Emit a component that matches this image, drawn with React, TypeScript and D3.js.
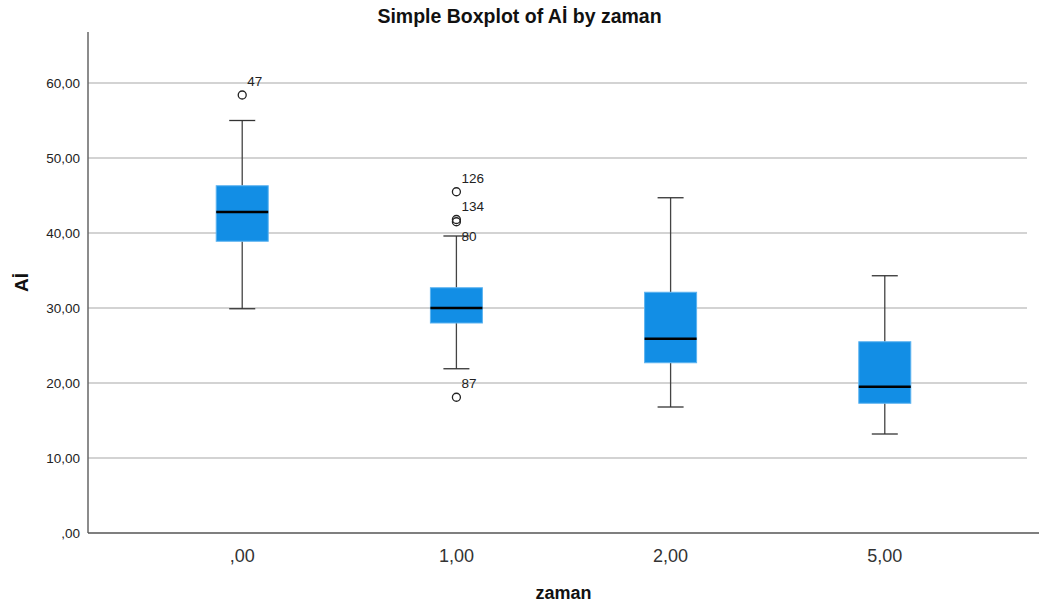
import React from "react";
import * as d3 from "d3";

// groups on the x axis
const categories = [",00", "1,00", "2,00", "5,00"];

// five-number summaries
const whiskerLow = [29.9, 21.9, 16.8, 13.2];
const q1 = [38.9, 28.0, 22.7, 17.3];
const median = [42.8, 30.0, 25.9, 19.5];
const q3 = [46.3, 32.7, 32.1, 25.5];
const whiskerHigh = [55.0, 39.6, 44.7, 34.3];

// outliers: group index, value, case label
const outlierGroup = [0, 1, 1, 1, 1];
const outlierValue = [58.4, 45.5, 41.8, 41.5, 18.1];
const outlierLabel = ["47", "126", "134", "80", "87"];

const yTicks = [0, 10, 20, 30, 40, 50, 60];

const fmt = (v: number) => (v === 0 ? ",00" : v.toFixed(2).replace(".", ","));

const App = () => {
  const width = 1039;
  const height = 611;
  const left = 88;
  const right = 1039;
  const top = 32;
  const bottom = 533;

  const x = d3.scalePoint<string>().domain(categories).range([left, right]).padding(0.72);
  const y = d3.scaleLinear().domain([0, 66.8]).range([bottom, top]);

  const boxW = 52;
  const capW = 26;
  const font = "'Liberation Sans', Arial, sans-serif";

  // place labels up-right of the circle, below it when they would collide
  let prevLabelY = -1000;
  const labels = outlierValue.map((v, i) => {
    const cy = y(v);
    let ly = cy - 9;
    if (Math.abs(ly - prevLabelY) < 14 && outlierGroup[i] === outlierGroup[i - 1]) ly = cy + 19;
    prevLabelY = ly;
    return ly;
  });

  return (
    <svg
      width={width}
      height={height}
      style={{ position: "absolute", left: 0, top: 0, background: "#fff" }}
      fontFamily={font}
    >
      <text x={519.5} y={23} textAnchor="middle" fontSize={19.5} fontWeight="bold" fill="#111">
        Simple Boxplot of Aİ by zaman
      </text>

      {/* grid */}
      {yTicks
        .filter((t) => t > 0)
        .map((t) => (
          <line key={t} x1={left} x2={right - 12} y1={y(t)} y2={y(t)} stroke="#d3d3d3" strokeWidth={2} />
        ))}

      {/* axes */}
      <line x1={left} x2={left} y1={top} y2={bottom} stroke="#666" strokeWidth={1.5} />
      <line x1={left} x2={right} y1={bottom} y2={bottom} stroke="#555" strokeWidth={1.5} />

      {yTicks.map((t) => (
        <text key={t} x={80} y={y(t) + 5} textAnchor="end" fontSize={13.5} fill="#222">
          {fmt(t)}
        </text>
      ))}

      {categories.map((c) => (
        <text key={c} x={x(c)} y={562} textAnchor="middle" fontSize={18} fill="#333">
          {c}
        </text>
      ))}

      <text x={(left + right) / 2} y={599} textAnchor="middle" fontSize={18} fontWeight="bold" fill="#111">
        zaman
      </text>
      <text
        transform={`translate(28, ${(top + bottom) / 2}) rotate(-90)`}
        textAnchor="middle"
        fontSize={19}
        fontWeight="bold"
        fill="#111"
      >
        Aİ
      </text>

      {/* boxes */}
      {categories.map((c, i) => {
        const cx = x(c) as number;
        return (
          <g key={c}>
            <line x1={cx} x2={cx} y1={y(whiskerHigh[i])} y2={y(q3[i])} stroke="#444" strokeWidth={1.3} />
            <line x1={cx} x2={cx} y1={y(q1[i])} y2={y(whiskerLow[i])} stroke="#444" strokeWidth={1.3} />
            <line
              x1={cx - capW / 2}
              x2={cx + capW / 2}
              y1={y(whiskerHigh[i])}
              y2={y(whiskerHigh[i])}
              stroke="#333"
              strokeWidth={1.3}
            />
            <line
              x1={cx - capW / 2}
              x2={cx + capW / 2}
              y1={y(whiskerLow[i])}
              y2={y(whiskerLow[i])}
              stroke="#333"
              strokeWidth={1.3}
            />
            <rect
              x={cx - boxW / 2}
              y={y(q3[i])}
              width={boxW}
              height={y(q1[i]) - y(q3[i])}
              fill="#128ee5"
              stroke="#5cb3f0"
              strokeWidth={1}
            />
            <line
              x1={cx - boxW / 2}
              x2={cx + boxW / 2}
              y1={y(median[i])}
              y2={y(median[i])}
              stroke="#000"
              strokeWidth={2.5}
            />
          </g>
        );
      })}

      {/* outliers */}
      {outlierValue.map((v, i) => {
        const cx = x(categories[outlierGroup[i]]) as number;
        return (
          <g key={outlierLabel[i]}>
            <circle cx={cx} cy={y(v)} r={4} fill="none" stroke="#222" strokeWidth={1.3} />
            <text x={cx + 5} y={labels[i]} fontSize={13.5} fill="#222">
              {outlierLabel[i]}
            </text>
          </g>
        );
      })}
    </svg>
  );
};

export default App;
